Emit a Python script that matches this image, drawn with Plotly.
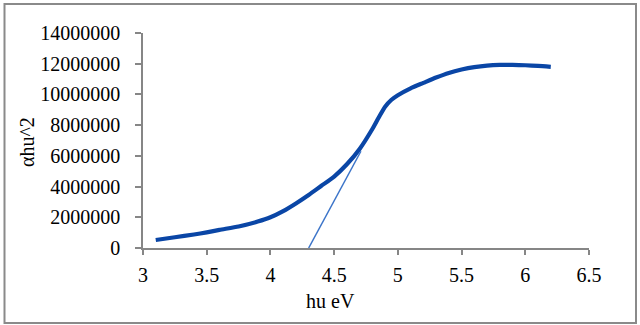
import plotly.graph_objects as go

# Data
hv = [3.10, 3.25, 3.40, 3.50, 3.60, 3.75, 3.90, 4.00, 4.10, 4.20, 4.30, 4.40,
      4.50, 4.60, 4.70, 4.80, 4.85, 4.90, 4.95, 5.00, 5.10, 5.20, 5.30, 5.40,
      5.50, 5.60, 5.70, 5.80, 5.90, 6.00, 6.10, 6.20]
alpha_hv2 = [0.52e6, 0.70e6, 0.88e6, 1.02e6, 1.18e6, 1.40e6, 1.72e6, 2.00e6,
             2.40e6, 2.90e6, 3.45e6, 4.05e6, 4.65e6, 5.45e6, 6.45e6, 7.75e6,
             8.50e6, 9.20e6, 9.65e6, 9.95e6, 10.40e6, 10.75e6, 11.10e6, 11.40e6,
             11.62e6, 11.78e6, 11.88e6, 11.92e6, 11.92e6, 11.90e6, 11.86e6, 11.80e6]
tangent_x = [4.30, 4.71]
tangent_y = [0.0, 6.3e6]

x_ticks = [3, 3.5, 4, 4.5, 5, 5.5, 6, 6.5]
y_ticks = [0, 2000000, 4000000, 6000000, 8000000, 10000000, 12000000, 14000000]

FONT = "Liberation Serif"
AXIS_COLOR = "#868686"

fig = go.Figure()
fig.add_trace(go.Scatter(x=hv, y=alpha_hv2, mode="lines",
                         line=dict(color="#0a46a6", width=4.2, shape="spline", smoothing=0.6),
                         showlegend=False, hoverinfo="skip"))
fig.add_trace(go.Scatter(x=tangent_x, y=tangent_y, mode="lines",
                         line=dict(color="#3b74c9", width=1.5),
                         showlegend=False, hoverinfo="skip"))

W, H = 640, 325
L, R, T, B = 143, 51, 33, 77
pw, ph = W - L - R, H - T - B

def px(x):
    return (x - L) / pw

def py(y):
    return (H - B - y) / ph

fig.update_layout(
    width=W, height=H,
    margin=dict(l=L, r=R, t=T, b=B),
    paper_bgcolor="white", plot_bgcolor="white",
    font=dict(family=FONT, size=20, color="black"),
    xaxis=dict(range=[3, 6.5], tickvals=x_ticks, ticktext=[f"{v:g}" for v in x_ticks],
               showline=True, linecolor=AXIS_COLOR, linewidth=1.5,
               ticks="outside", ticklen=5, tickcolor=AXIS_COLOR, tickwidth=1.5,
               showgrid=False, zeroline=False, ticklabelstandoff=3,
               tickfont=dict(family=FONT, size=20, color="black")),
    yaxis=dict(range=[0, 14000000], tickvals=y_ticks, ticktext=[str(v) for v in y_ticks],
               showline=True, linecolor=AXIS_COLOR, linewidth=1.5,
               ticks="outside", ticklen=6, tickcolor=AXIS_COLOR, tickwidth=1.5,
               showgrid=False, zeroline=False, ticklabelstandoff=11,
               tickfont=dict(family=FONT, size=20, color="black")),
    shapes=[dict(type="rect", xref="paper", yref="paper",
                 x0=px(4.5), x1=px(636), y0=py(323), y1=py(4),
                 line=dict(color="#8a8a8a", width=2), fillcolor="rgba(0,0,0,0)", layer="below")],
    annotations=[
        dict(text="hu eV", xref="paper", yref="paper", x=px(330.5), y=py(301),
             xanchor="center", yanchor="middle", showarrow=False,
             font=dict(family=FONT, size=20, color="black")),
        dict(text="αhu^2", xref="paper", yref="paper", x=px(27), y=py(142),
             xanchor="center", yanchor="middle", showarrow=False, textangle=-90,
             font=dict(family=FONT, size=20, color="black")),
    ],
)

fig.write_html("out.html", config={"displayModeBar": False},
               post_script="document.body.style.margin='0';document.body.style.overflow='hidden';")
